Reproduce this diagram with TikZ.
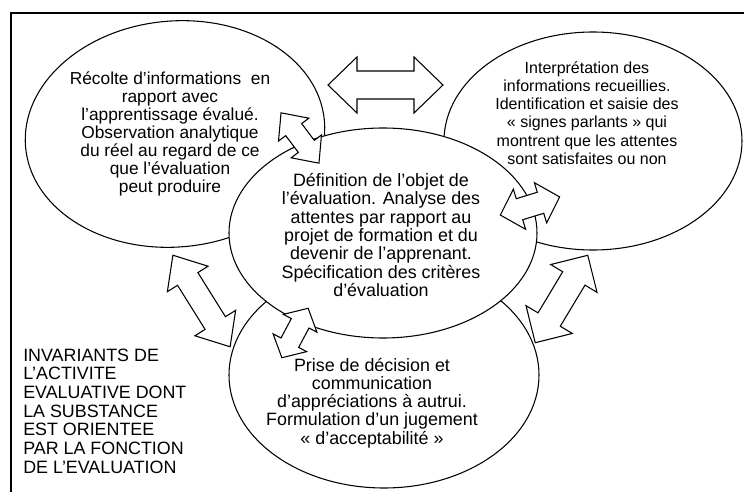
\documentclass[tikz,border=0pt]{standalone}
\usepackage{fontspec}
\setmainfont{Liberation Sans}
\usetikzlibrary{shapes.geometric}
\tikzset{
  bubble/.style={ellipse, draw, line width=0.8pt, inner sep=0pt, outer sep=0pt},
  blockarrow/.style={draw, fill=white, line width=0.8pt, line join=miter},
  txt/.style={align=center, inner sep=0pt, font=\fontsize{13.4}{13.7}\selectfont},
  lefttxt/.style={align=left, inner sep=0pt, font=\fontsize{13.4}{14}\selectfont},
  frameline/.style={line width=1.5pt}
}
% name, cx, cy, angle (image, clockwise), half length, head length, head half width, shaft half width
\newcommand\dblarrow[8]{%
  \coordinate (#1) at (#2,#3);
  \draw[blockarrow, shift={(#1)}, rotate={-1*(#4)}]
    ({-#5},0) -- ({-#5+#6},{#7}) -- ({-#5+#6},{#8}) -- ({#5-#6},{#8}) -- ({#5-#6},{#7})
    -- ({#5},0) -- ({#5-#6},{-#7}) -- ({#5-#6},{-#8}) -- ({-#5+#6},{-#8}) -- ({-#5+#6},{-#7}) -- cycle;
}
\begin{document}
\begin{tikzpicture}[x=0.75pt, y=-0.75pt]
\useasboundingbox (0,0) rectangle (744,492);
\fill[white] (0,0) rectangle (744,492);
% frame
\coordinate (fb) at (11,492);
\coordinate (fc) at (11,13);
\coordinate (fr) at (744,13);
\draw[frameline] (fb) -- (fc) -- (fr);
% ellipses
\node[bubble, rotate=5, minimum width=225pt, minimum height=169.5pt] (recolte) at (175,134) {};
\node[bubble, minimum width=223.5pt, minimum height=163.5pt] (interp) at (593,141) {};
\node[bubble, minimum width=232.5pt, minimum height=169.5pt] (prise) at (384,375) {};
\node[bubble, fill=white, minimum width=231pt, minimum height=157.5pt] (defin) at (383,233) {};
% arrows
\dblarrow{aA}{385.5}{85}{0}{57.5}{29}{28}{14}
\dblarrow{aB}{300}{138}{53}{31.5}{21}{19}{10}
\dblarrow{aC}{530}{206}{-17}{31}{20}{21}{11}
\dblarrow{aD}{201.5}{301}{58}{54}{28}{24}{12}
\dblarrow{aE}{295}{333}{-62}{28}{17}{19}{10}
\dblarrow{aF}{561.5}{299}{-59}{51}{27}{27}{13}
% texts
\node[txt, font=\fontsize{13}{13.6}\selectfont] (tL) at (170,134) {Récolte d'informations~ en\\rapport avec\\l'apprentissage évalué.\\Observation analytique\\du réel au regard de ce\\que l'évaluation\\peut produire};
\node[txt, font=\fontsize{12}{13.65}\selectfont] (tR) at (587,113) {Interprétation des\\informations recueillies.\\Identification et saisie des\\«~signes parlants~» qui\\montrent que les attentes\\sont satisfaites ou non};
\node[txt] (tC) at (381,235) {Définition de l'objet de\\l'évaluation. Analyse des\\attentes par rapport au\\projet de formation et du\\devenir de l'apprenant.\\Spécification des critères\\d'évaluation};
\node[txt] (tB) at (372,403) {Prise de décision et\\communication\\d'appréciations à autrui.\\Formulation d'un jugement\\«~d'acceptabilité~»};
\node[lefttxt, anchor=west] (tI) at (23,411) {INVARIANTS DE\\L'ACTIVITE\\EVALUATIVE DONT\\LA SUBSTANCE\\EST ORIENTEE\\PAR LA FONCTION\\DE L'EVALUATION};
\end{tikzpicture}
\end{document}
